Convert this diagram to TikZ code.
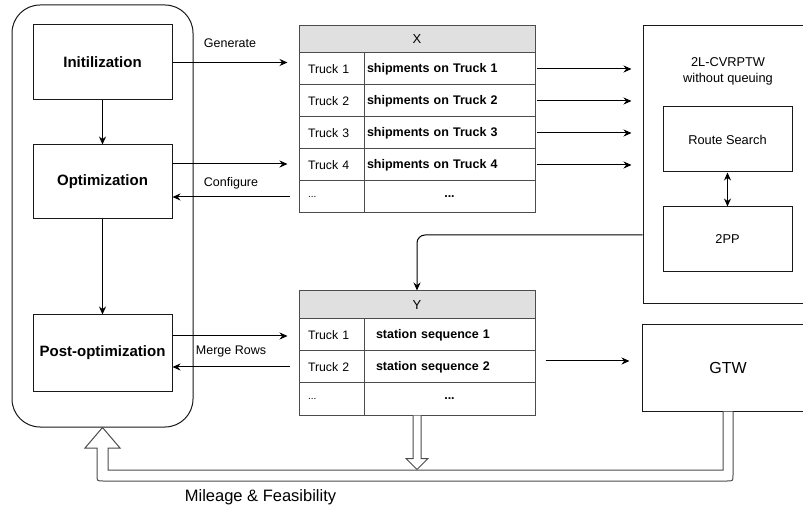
\documentclass[tikz,border=0pt]{standalone}
\usepackage{fontspec}
\setmainfont{Liberation Sans}
\usetikzlibrary{arrows.meta}
\newcommand\fsz[2]{\fontsize{#1pt}{#2pt}\selectfont}
\begin{document}
\begin{tikzpicture}[x=1pt,y=-1pt, line width=1pt, >={Stealth[length=8pt,width=7pt]},
 box/.style={draw=black!90, inner sep=0pt, align=center},
 stagebox/.style={box, minimum width=139pt, font=\fsz{15}{18}\bfseries},
 hdr/.style={draw=black!70, fill=black!12, minimum width=236pt, inner sep=0pt, font=\fsz{13}{15}},
 cella/.style={draw=black!70, minimum height=32pt, inner xsep=9pt, inner ysep=0pt, text width=47pt, align=left, font=\fsz{12.3}{14}},
 cellb/.style={draw=black!70, minimum height=32pt, inner xsep=3pt, inner ysep=0pt, text width=165pt, align=left, font=\fsz{12.5}{15}\bfseries},
 cellby/.style={cellb, inner xsep=12pt, text width=147pt},
 dotsa/.style={cella, font=\fsz{10}{12}},
 dotsb/.style={cellb, align=center},
 arr/.style={->, draw=black},
 lbl/.style={font=\fsz{12.5}{15}, inner sep=0pt},
 hollow/.style={fill=white, draw=black!70},
]
\useasboundingbox (0,0) rectangle (803,510);
\clip (0,0) rectangle (803,510);
\fill[white] (0,0) rectangle (803,510);

% left column
\node[box, minimum width=181pt, minimum height=422pt, rounded corners=28pt] (outer) at (102.5,216) {};
\node[stagebox, minimum height=75pt] (init) at (102.5,62.5) {Initilization};
\node[stagebox, minimum height=74pt] (opt) at (102.5,182) {Optimization};
\node[stagebox, minimum height=76pt] (post) at (102.5,353) {Post-optimization};

% table X
\node[hdr, minimum height=27pt] (hx) at (417,39.5) {X};
\node[cella] (x1a) at (331.5,69) {Truck 1};
\node[cellb] (x1b) at (449.5,69) {shipments on Truck 1};
\node[cella] (x2a) at (331.5,101) {Truck 2};
\node[cellb] (x2b) at (449.5,101) {shipments on Truck 2};
\node[cella] (x3a) at (331.5,133) {Truck 3};
\node[cellb] (x3b) at (449.5,133) {shipments on Truck 3};
\node[cella] (x4a) at (331.5,165) {Truck 4};
\node[cellb] (x4b) at (449.5,165) {shipments on Truck 4};
\node[dotsa] (x5a) at (331.5,197) {...};
\node[dotsb] (x5b) at (449.5,197) {...};

% right box
\node[box, minimum width=170pt, minimum height=278pt] (cvrp) at (728,165) {};
\node[lbl, align=center, font=\fsz{12.8}{16}] (cvt) at (728,71) {2L-CVRPTW\\without queuing};
\node[box, minimum width=129pt, minimum height=65pt, font=\fsz{12.8}{15}] (rs) at (727.5,139.5) {Route Search};
\node[box, minimum width=129pt, minimum height=65pt, font=\fsz{12.8}{15}] (pp) at (727.5,239.5) {2PP};
\draw[<->] (rs) -- (pp);

% table Y
\node[hdr, minimum height=28pt] (hy) at (417,305) {Y};
\node[cella] (y1a) at (331.5,335) {Truck 1};
\node[cellby] (y1b) at (449.5,335) {station sequence 1};
\node[cella] (y2a) at (331.5,367) {Truck 2};
\node[cellby] (y2b) at (449.5,367) {station sequence 2};
\node[dotsa] (y3a) at (331.5,399) {...};
\node[dotsb] (y3b) at (449.5,399) {...};

% GTW
\node[box, minimum width=172pt, minimum height=86pt, font=\fsz{16}{19}] (gtw) at (728,368) {GTW};

% connectors
\draw[arr] (init) -- (opt);
\draw[arr] (opt) -- (post);
\draw[arr] (init.east) -- ([xshift=-11pt]init.east -| hx.west) node[lbl, midway, yshift=19pt] {Generate};
\coordinate (o1) at ([yshift=18pt]opt.east);
\draw[arr] (o1) -- ([xshift=-11pt]o1 -| x4a.west);
\draw[arr] ([xshift=-9pt]x5a.west) -- (x5a.west -| opt.east) node[lbl, midway, yshift=14pt] {Configure};

\draw[arr] ([xshift=1pt]x1b.east) -- ([xshift=-11pt]x1b.east -| cvrp.west);
\draw[arr] ([xshift=1pt]x2b.east) -- ([xshift=-11pt]x2b.east -| cvrp.west);
\draw[arr] ([xshift=1pt]x3b.east) -- ([xshift=-11pt]x3b.east -| cvrp.west);
\draw[arr] ([xshift=1pt]x4b.east) -- ([xshift=-11pt]x4b.east -| cvrp.west);

\draw[arr, rounded corners=8pt] ([yshift=-70pt]cvrp.west) -| (hy.north);

\coordinate (p1) at ([yshift=17pt]post.east);
\draw[arr] (p1) -- ([xshift=-11pt]p1 -| y1a.west);
\draw[arr] ([xshift=-9pt]y2a.west) -- (y2a.west -| post.east) node[lbl, midway, yshift=16pt] {Merge Rows};

\coordinate (ys) at ([shift={(10pt,6pt)}]y2b.east);
\draw[arr] (ys) -- ([xshift=-12pt]ys -| gtw.west);

% feedback double arrow
\filldraw[hollow] ([xshift=5pt]gtw.south) -- (733,475) .. controls (733,481) .. (727,481) -- (103,481) .. controls (97,481) .. (97,475) -- (97,448) -- (85,448) -- (outer.south) -- (120,448) -- (108,448) -- (108,470) -- (723,470) -- ([xshift=-5pt]gtw.south);

% Y down hollow arrow
\coordinate (yb) at (hy.south |- y3b.south);
\filldraw[hollow] ([xshift=-4pt]yb) -- ++(0,43) -- ++(-7,0) -- ++(11,11) -- ++(11,-11) -- ++(-7,0) -- ++(0,-43);

\node[lbl, font=\fsz{16.5}{19}] (ml) at (260.5,497) {Mileage \& Feasibility};
\end{tikzpicture}
\end{document}
